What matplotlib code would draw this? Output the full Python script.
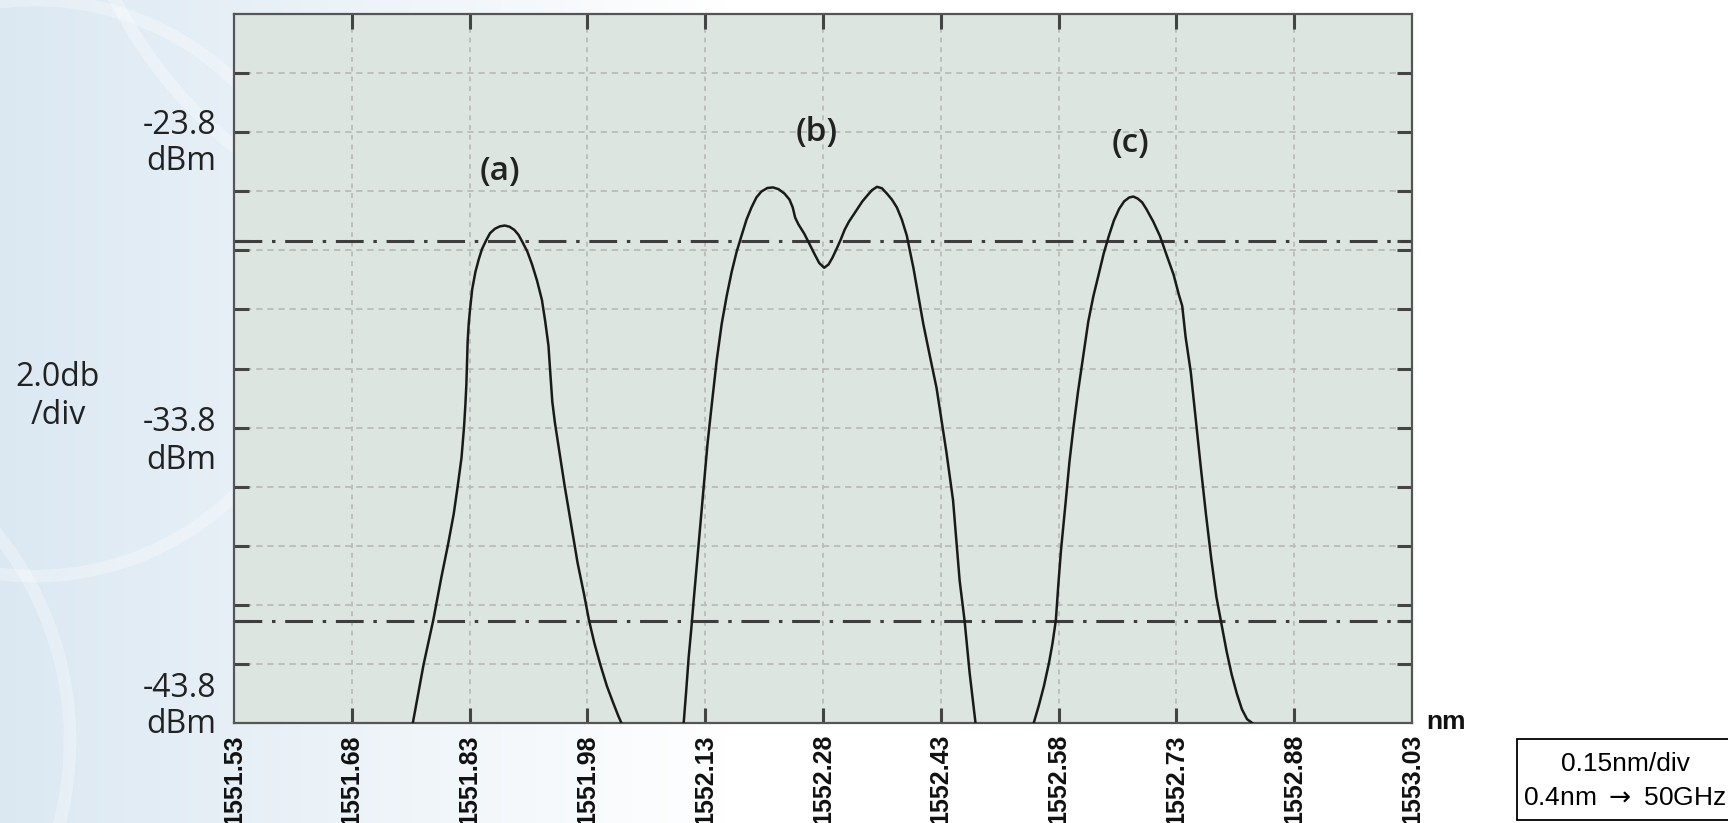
import numpy as np
import matplotlib
matplotlib.use("Agg")
import matplotlib.pyplot as plt
from matplotlib.patches import Rectangle

# x axis: 0.15 nm per division
wl_ticks = [1551.53, 1551.68, 1551.83, 1551.98, 1552.13, 1552.28,
            1552.43, 1552.58, 1552.73, 1552.88, 1553.03]
tick_labels = ["1551.53", "1551.68", "1551.83", "1551.98", "1552.13", "1552.28",
               "1552.43", "1552.58", "1552.73", "1552.88", "1553.03"]
# y axis: 2 dB per division
db_grid = [-41.8, -39.8, -37.8, -35.8, -33.8, -31.8, -29.8, -27.8, -25.8, -23.8, -21.8]
db_labels = [-23.8, -33.8, -43.8]
ref_levels = [-27.5, -40.35]   # dash-dot marker lines

# spectrum (a)
wl_a = [1551.7577, 1551.7714, 1551.7837, 1551.7941, 1551.8023, 1551.8098, 1551.8147,
        1551.8197, 1551.8230, 1551.8246, 1551.8259, 1551.8267, 1551.8275, 1551.8288,
        1551.8304, 1551.8333, 1551.8374, 1551.8416, 1551.8457, 1551.8511, 1551.8560,
        1551.8622, 1551.8684, 1551.8746, 1551.8808, 1551.8870, 1551.8924, 1551.8973,
        1551.9035, 1551.9097, 1551.9159, 1551.9221, 1551.9262, 1551.9304, 1551.9328,
        1551.9353, 1551.9386, 1551.9448, 1551.9510, 1551.9593, 1551.9675, 1551.9758,
        1551.9820, 1551.9890, 1551.9964, 1552.0047, 1552.0130, 1552.0192, 1552.0233]
pw_a = [-43.8, -41.82, -40.32, -38.86, -37.79, -36.72, -35.81,
        -34.82, -33.75, -33.04, -32.33, -31.62, -30.90, -30.31,
        -29.84, -29.12, -28.53, -28.11, -27.76, -27.46, -27.22,
        -27.07, -26.99, -26.96, -27.0, -27.11, -27.28, -27.52,
        -27.84, -28.29, -28.83, -29.48, -30.19, -31.02, -31.97,
        -32.92, -33.63, -34.70, -35.77, -37.08, -38.38, -39.45,
        -40.32, -41.11, -41.82, -42.54, -43.13, -43.55, -43.8]

# spectrum (b)
wl_b = [1552.1026, 1552.1056, 1552.1090, 1552.1123, 1552.1153, 1552.1216, 1552.1279,
        1552.1329, 1552.1384, 1552.1447, 1552.1510, 1552.1574, 1552.1637, 1552.1700,
        1552.1763, 1552.1826, 1552.1889, 1552.1952, 1552.2015, 1552.2091, 1552.2163,
        1552.2234, 1552.2310, 1552.2373, 1552.2415, 1552.2445, 1552.2487, 1552.2562,
        1552.2625, 1552.2689, 1552.2752, 1552.2815, 1552.2870, 1552.2920, 1552.2975,
        1552.3025, 1552.3076, 1552.3130, 1552.3215, 1552.3299, 1552.3362, 1552.3425,
        1552.3488, 1552.3551, 1552.3614, 1552.3677, 1552.3741, 1552.3804, 1552.3867,
        1552.3909, 1552.3951, 1552.4014, 1552.4077, 1552.4161, 1552.4246, 1552.4309,
        1552.4372, 1552.4414, 1552.4456, 1552.4498, 1552.4540, 1552.4603, 1552.4667,
        1552.4742]
pw_b = [-43.8, -42.78, -41.56, -40.61, -39.66, -37.76, -35.86,
        -34.36, -33.01, -31.51, -30.29, -29.34, -28.53, -27.85,
        -27.30, -26.76, -26.35, -26.01, -25.81, -25.69, -25.67,
        -25.73, -25.88, -26.08, -26.35, -26.69, -26.92, -27.24,
        -27.57, -27.91, -28.23, -28.39, -28.28, -28.05, -27.74,
        -27.44, -27.10, -26.83, -26.49, -26.15, -25.95, -25.76,
        -25.65, -25.70, -25.88, -26.08, -26.35, -26.76, -27.30,
        -27.85, -28.39, -29.34, -30.29, -31.38, -32.46, -33.55,
        -34.64, -35.45, -36.26, -37.62, -38.98, -40.34, -42.10,
        -43.8]

# spectrum (c)
wl_c = [1552.5483, 1552.5548, 1552.5613, 1552.5678, 1552.5722, 1552.5765, 1552.5796,
        1552.5830, 1552.5883, 1552.5939, 1552.5991, 1552.6048, 1552.6113, 1552.6178,
        1552.6243, 1552.6309, 1552.6374, 1552.6439, 1552.6504, 1552.6570, 1552.6635,
        1552.6700, 1552.6752, 1552.6809, 1552.6865, 1552.6917, 1552.7004, 1552.7091,
        1552.7178, 1552.7265, 1552.7330, 1552.7374, 1552.7417, 1552.7483, 1552.7548,
        1552.7613, 1552.7678, 1552.7743, 1552.7809, 1552.7874, 1552.7939, 1552.8004,
        1552.8070, 1552.8135, 1552.8200, 1552.8265]
pw_c = [-43.8, -43.21, -42.55, -41.76, -41.11, -40.32, -39.14,
        -37.96, -36.51, -34.94, -33.75, -32.57, -31.39, -30.21,
        -29.35, -28.63, -27.91, -27.32, -26.79, -26.40, -26.14,
        -26.01, -25.98, -26.05, -26.18, -26.40, -26.82, -27.32,
        -27.98, -28.63, -29.29, -29.68, -30.73, -31.92, -33.56,
        -35.20, -36.77, -38.22, -39.53, -40.45, -41.37, -42.16,
        -42.81, -43.34, -43.67, -43.8]

peak_names = ["(a)", "(b)", "(c)"]
peak_pos = [(1551.869, -25.13), (1552.272, -23.8), (1552.672, -24.2)]

plt.rcParams["lines.scale_dashes"] = False

fig = plt.figure(figsize=(17.28, 8.23), dpi=100)

# light blue backdrop fading to white
bg = fig.add_axes([0, 0, 1, 1], zorder=-10)
bg.set_axis_off()
xs = np.linspace(0, 1, 400)
t = np.clip(xs / 0.42, 0, 1)
left_col = np.array([0.86, 0.91, 0.95])
cols = left_col[None, :] * (1 - t[:, None]) + np.array([1.0, 1.0, 1.0])[None, :] * t[:, None]
bg.imshow(cols[None, :, :], aspect="auto", extent=[0, 1, 0, 1])
th = np.linspace(0, 2 * np.pi, 300)
for cx, cy, r in [(0.02, 0.65, 0.35), (0.30, 1.25, 0.55), (-0.15, 0.1, 0.4)]:
    bg.plot(cx + r * np.cos(th) * 823 / 1728, cy + r * np.sin(th), color="white",
            lw=9, alpha=0.3)
bg.set_xlim(0, 1)
bg.set_ylim(0, 1)

ax = fig.add_axes([234 / 1728, 1 - 723 / 823, (1412 - 234) / 1728, (723 - 14) / 823])
ax.set_facecolor("#dce5e0")
ax.set_xlim(wl_ticks[0], wl_ticks[-1])
ax.set_ylim(-43.8, -19.8)

# grid
for x in wl_ticks[1:-1]:
    ax.axvline(x, color="#b9bcb9", lw=1.3, linestyle=(0, (3.5, 3.5)), zorder=1)
for y in db_grid:
    ax.axhline(y, color="#b9bcb9", lw=1.3, linestyle=(0, (4.5, 3.5)), zorder=1)
for y in ref_levels:
    ax.axhline(y, color="#3d3d3d", lw=2.2, linestyle=(0, (20, 7, 2.5, 7)), zorder=2)

# spectra
for wl, pw in [(wl_a, pw_a), (wl_b, pw_b), (wl_c, pw_c)]:
    ax.plot(wl, pw, color="#1a1a1a", lw=1.8, zorder=3, solid_joinstyle="round")

for name, (x, y) in zip(peak_names, peak_pos):
    ax.text(x, y, name, ha="center", va="center", fontsize=24, fontweight="semibold",
            family="Open Sans", color="#222222", zorder=4)

# ticks on all sides, inward
ax.set_xticks(wl_ticks[1:-1])
ax.set_xticklabels([])
ax.set_yticks(db_grid + ref_levels)
ax.set_yticklabels([])
ax.tick_params(axis="both", direction="in", length=11, width=2.2, color="#444444",
               top=True, right=True)
for s in ax.spines.values():
    s.set_color("#555555")
    s.set_linewidth(1.6)

# wavelength labels, rotated, under the axes
for x, lab in zip(wl_ticks, tick_labels):
    ax.annotate(lab, xy=(x, 0), xycoords=("data", "axes fraction"),
                xytext=(0, -8), textcoords="offset points", rotation=90,
                ha="center", va="top", fontsize=18, fontweight="bold",
                family="Liberation Sans", color="#111111", annotation_clip=False)

# power labels
offsets = {-23.8: (5, -21), -33.8: (4, -24), -43.8: (25, -1)}
for val in db_labels:
    up, down = offsets[val]
    ax.annotate("-%.1f" % abs(val), xy=(0, val), xycoords=("axes fraction", "data"),
                xytext=(-13, up), textcoords="offset points", ha="right", va="center",
                fontsize=23, family="Open Sans", color="#222222", annotation_clip=False)
    ax.annotate("dBm", xy=(0, val), xycoords=("axes fraction", "data"),
                xytext=(-13, down), textcoords="offset points", ha="right", va="center",
                fontsize=23, family="Open Sans", color="#222222", annotation_clip=False)

fig.text(58 / 1728, 1 - 397 / 823, "2.0db\n/div", ha="center", va="center",
         fontsize=23, family="Open Sans", color="#222222", linespacing=1.2)

fig.text(1446 / 1728, 1 - 722 / 823, "nm", ha="center", va="center",
         fontsize=19, fontweight="bold", family="Liberation Sans", color="#111111")

# scale note box
fig.patches.append(Rectangle((1517 / 1728, 1 - 820 / 823), (1740 - 1517) / 1728,
                             (820 - 739) / 823, transform=fig.transFigure,
                             facecolor="white", edgecolor="black", lw=1.3,
                             clip_on=False))
fig.text(1625 / 1728, 1 - 764 / 823, "0.15nm/div", ha="center", va="center",
         fontsize=19, family=["Liberation Sans", "DejaVu Sans"])
fig.text(1625 / 1728, 1 - 798 / 823, "0.4nm $\\rightarrow$ 50GHz", ha="center",
         va="center", fontsize=19, family=["Liberation Sans", "DejaVu Sans"])

fig.savefig("out.png", dpi=100)
